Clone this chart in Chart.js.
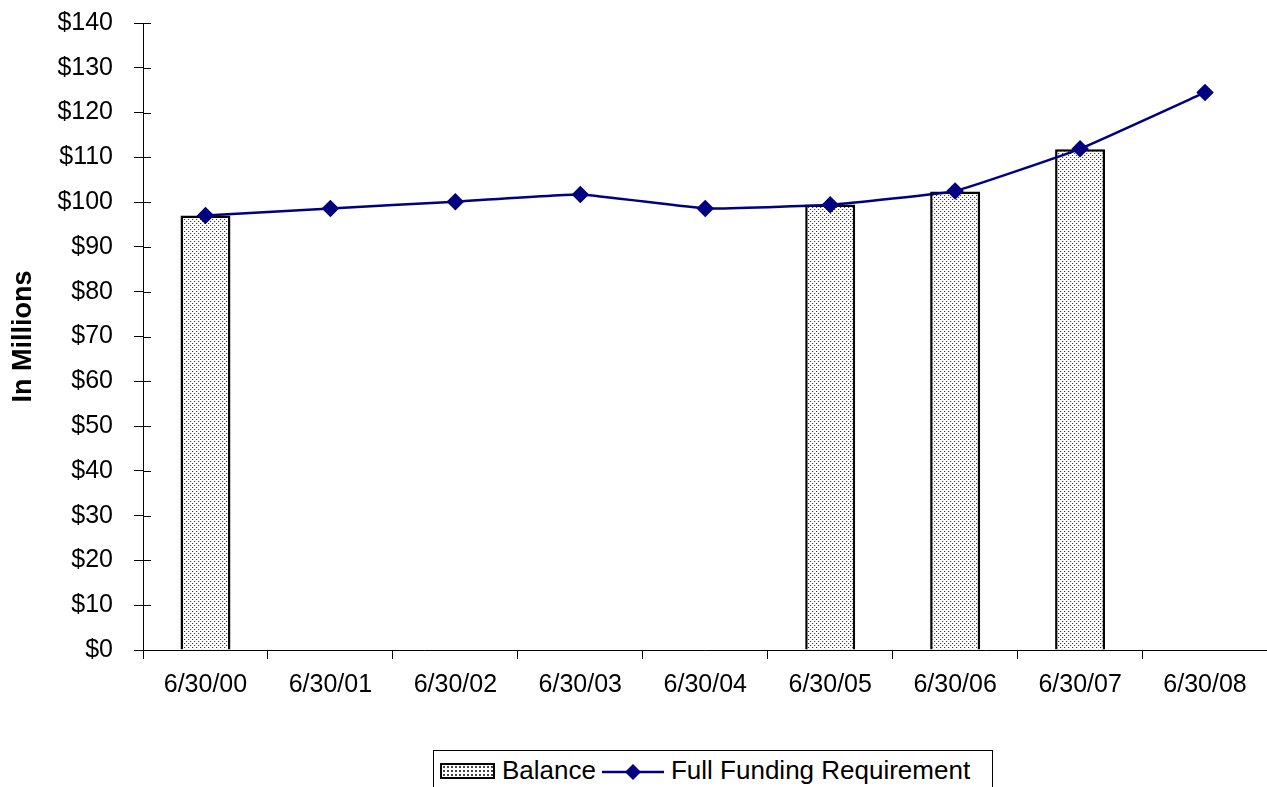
<!DOCTYPE html>
<html>
<head>
<meta charset="utf-8">
<script src="https://cdn.jsdelivr.net/npm/chart.js@4.4.1/dist/chart.umd.min.js"></script>
<style>
  body { margin: 0; background: #fff; font-family: "Liberation Sans", Arial, sans-serif; overflow: hidden; }
  #wrap { position: relative; width: 1267px; height: 740px; overflow: hidden; }
  #myChart { position: absolute; left: 0; top: -13px; }
  #legend {
    position: absolute; left: 433px; top: 750px; width: 560px; height: 50px;
    border: 1px solid #000; box-sizing: border-box;
    display: flex; align-items: flex-start; padding-top: 4px; padding-left: 6px;
    font-size: 26px; color: #000; white-space: nowrap;
  }
  .sw { display: inline-block; width: 55px; height: 16px; border: 2px solid #000; box-sizing: border-box; margin-top: 8px; margin-right: 7px;
        background-color: #fff;
        background-image: radial-gradient(circle, #444 0.8px, transparent 1.2px);
        background-size: 4px 4px; }
  .ln { margin: 2px 7px 0 6px; }
</style>
</head>
<body>
<div id="wrap"><canvas id="myChart" width="1277" height="753"></canvas></div>
<div id="legend">
  <span class="sw"></span><span>Balance</span>
  <svg class="ln" width="62" height="30"><line x1="0" y1="15" x2="62" y2="15" stroke="#000080" stroke-width="2.5"/><polygon points="31,7 39,15 31,23 23,15" fill="#000080"/></svg>
  <span>Full Funding Requirement</span>
</div>
<script>
let labels = ['6/30/00', '6/30/01', '6/30/02', '6/30/03', '6/30/04', '6/30/05', '6/30/06', '6/30/07', '6/30/08']
let balance = [97.0, null, null, null, null, 99.5, 102.4, 111.8, null]
let fullFunding = [97.0, 98.6, 100.1, 101.7, 98.6, 99.4, 102.5, 111.9, 124.5]

// dotted fill like the old office pattern
let pc = document.createElement('canvas')
pc.width = 4
pc.height = 4
let pctx = pc.getContext('2d')
pctx.fillStyle = '#fff'
pctx.fillRect(0, 0, 4, 4)
pctx.fillStyle = '#3a3a3a'
pctx.fillRect(0, 0, 1, 1)
pctx.fillRect(2, 2, 1, 1)
pctx.fillStyle = '#d8d8d8'
pctx.fillRect(1, 0, 1, 1)
pctx.fillRect(3, 2, 1, 1)
const ctx = document.getElementById('myChart')
let dots = ctx.getContext('2d').createPattern(pc, 'repeat')

// small tick marks on the inner side of the y axis
const innerTicks = {
    id: 'innerTicks',
    afterDraw(chart) {
        let y = chart.scales.y
        let c = chart.ctx
        c.save()
        c.strokeStyle = '#000'
        c.lineWidth = 1
        y.ticks.forEach(t => {
            let py = Math.round(y.getPixelForValue(t.value)) + 0.5
            c.beginPath()
            c.moveTo(y.right, py)
            c.lineTo(y.right + 8, py)
            c.stroke()
        })
        c.restore()
    }
}

new Chart(ctx, {
    type: 'bar',
    data: {
        labels: labels,
        datasets: [
            {
                type: 'line',
                label: 'Full Funding Requirement',
                data: fullFunding,
                borderColor: '#000080',
                backgroundColor: '#000080',
                borderWidth: 2.5,
                pointStyle: 'rectRot',
                pointRadius: 7,
                pointHoverRadius: 7,
                tension: 0.1,
                order: 0
            },
            {
                label: 'Balance',
                data: balance,
                backgroundColor: dots,
                borderColor: '#000',
                borderWidth: 2.5,
                categoryPercentage: 1,
                barPercentage: 0.4,
                order: 1
            }
        ]
    },
    options: {
        responsive: false,
        animation: false,
        plugins: {
            legend: { display: false },
            tooltip: { enabled: false }
        },
        scales: {
            x: {
                offset: true,
                afterFit: s => { s.height = 90 },
                grid: { offset: true, drawOnChartArea: false, tickLength: 9, color: '#000' },
                border: { color: '#000', width: 1 },
                ticks: { color: '#000', padding: 11, maxRotation: 0, font: { family: 'Liberation Sans', size: 25 } }
            },
            y: {
                min: 0,
                max: 140,
                afterFit: s => { s.width = 143 },
                grid: { drawOnChartArea: false, tickLength: 9, color: '#000' },
                border: { color: '#000', width: 1 },
                ticks: {
                    stepSize: 10,
                    color: '#000',
                    padding: 21,
                    font: { family: 'Liberation Sans', size: 25 },
                    callback: v => '$' + v
                },
                title: {
                    display: true,
                    text: 'In Millions',
                    color: '#000',
                    padding: { top: 7, bottom: 0 },
                    font: { family: 'Liberation Sans', size: 27, weight: 'bold' }
                }
            }
        }
    },
    plugins: [innerTicks]
})
</script>
</body>
</html>
